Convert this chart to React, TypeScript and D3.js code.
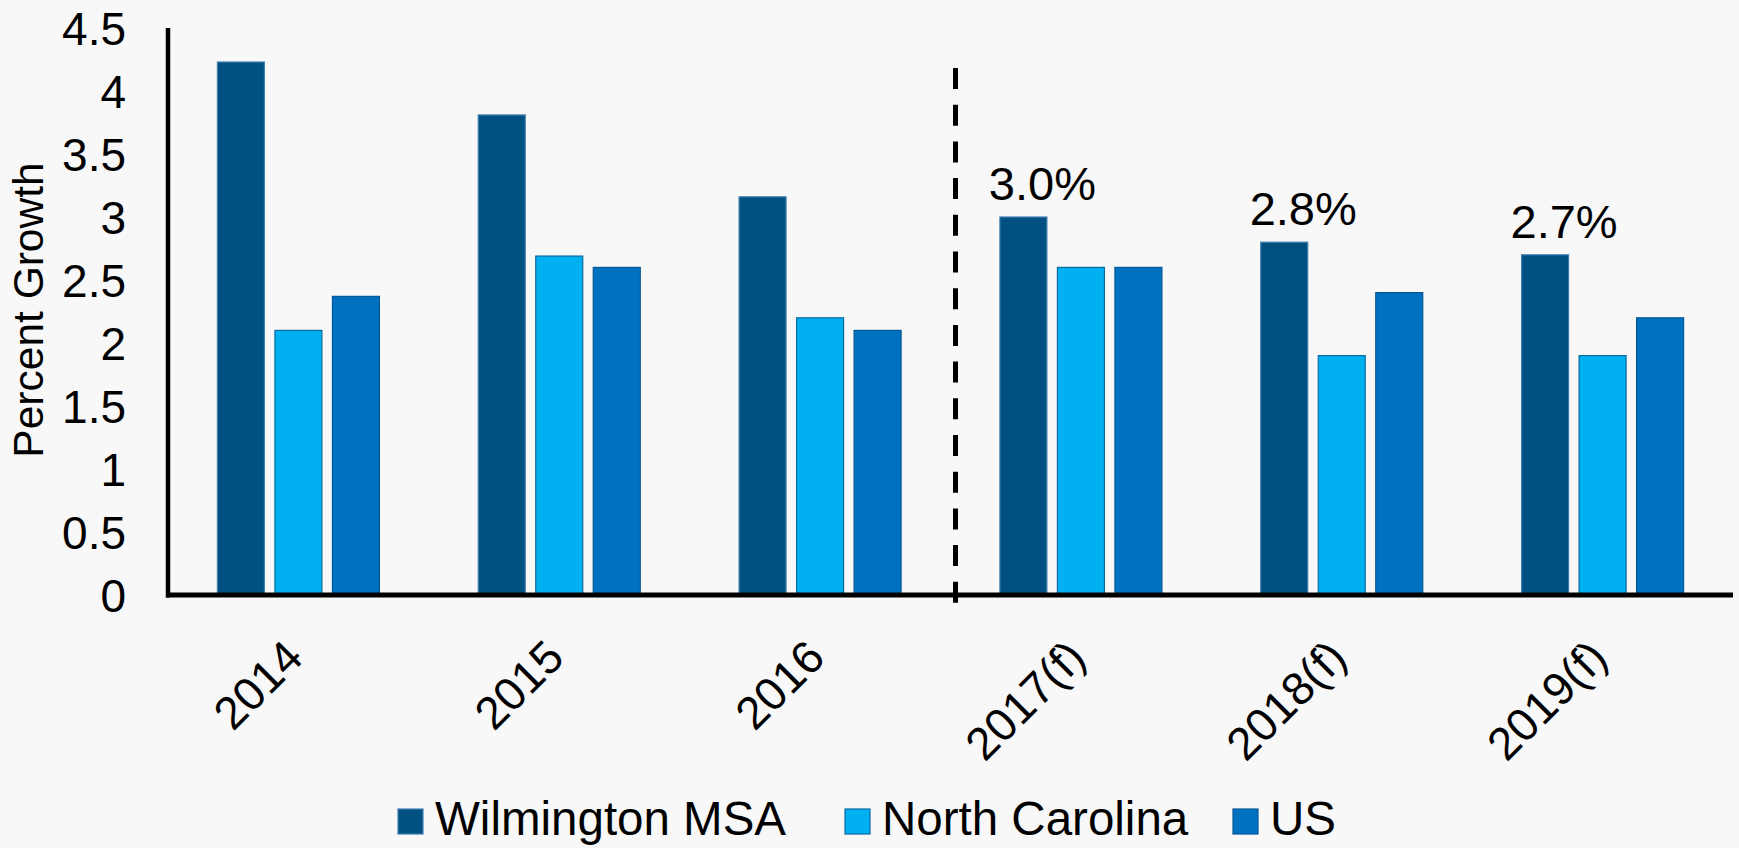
import React from "react";
import * as d3 from "d3";

const categories = ["2014", "2015", "2016", "2017(f)", "2018(f)", "2019(f)"];
const seriesNames = ["Wilmington MSA", "North Carolina", "US"];
const wilmington = [4.23, 3.81, 3.16, 3.0, 2.8, 2.7];
const northCarolina = [2.1, 2.69, 2.2, 2.6, 1.9, 1.9];
const us = [2.37, 2.6, 2.1, 2.6, 2.4, 2.2];
const dataLabels = ["", "", "", "3.0%", "2.8%", "2.7%"];
const yTicks = [0, 0.5, 1, 1.5, 2, 2.5, 3, 3.5, 4, 4.5];
const colors = ["#005082", "#00B0F0", "#0070C0"];
const strokes = ["#3f7fae", "#0b6aa0", "#045896"];

const W = 1739;
const H = 848;
const FONT = "'Liberation Sans', Arial, sans-serif";

export default function App() {
  const x0 = 168;
  const x1 = 1733;
  const yBase = 595;
  const yTop = 28;

  const x = d3.scaleBand<string>().domain(categories).range([x0, x1]).padding(0);
  const groupW = 162;
  const xs = d3
    .scaleBand<string>()
    .domain(seriesNames)
    .range([0, groupW])
    .paddingInner(0.183)
    .paddingOuter(0);
  const y = d3.scaleLinear().domain([0, 4.5]).range([yBase, yTop]);

  const series = [wilmington, northCarolina, us];
  const bw = xs.bandwidth();

  const dashX = (x("2016")! + x.bandwidth() + x("2017(f)")!) / 2 + 5;

  const legendX = [398, 845, 1233];

  return (
    <div style={{ position: "fixed", left: 0, top: 0 }}>
      <svg width={W} height={H} style={{ display: "block", background: "#f8f8f8" }}>
        <rect x={0} y={0} width={W} height={H} fill="#f8f8f8" />
        {categories.map((c, i) => {
          const gx = x(c)! + x.bandwidth() / 2 - groupW / 2;
          return (
            <g key={c}>
              {series.map((s, j) => (
                <rect
                  key={j}
                  x={gx + xs(seriesNames[j])!}
                  y={y(s[i])}
                  width={bw}
                  height={yBase - y(s[i])}
                  fill={colors[j]}
                  stroke={strokes[j]}
                  strokeWidth={1.2}
                />
              ))}
              {dataLabels[i] && (
                <text
                  x={gx + xs(seriesNames[0])! + bw / 2 + 19}
                  y={y(wilmington[i]) - 17}
                  textAnchor="middle"
                  fontFamily={FONT}
                  fontSize={47}
                  fill="#000"
                >
                  {dataLabels[i]}
                </text>
              )}
              <text
                transform={`translate(${x(c)! + x.bandwidth() / 2 + 7},${yBase + 65}) rotate(-45)`}
                textAnchor="end"
                fontFamily={FONT}
                fontSize={46}
                fill="#000"
              >
                {c}
              </text>
            </g>
          );
        })}
        <line
          x1={dashX}
          x2={dashX}
          y1={68}
          y2={610}
          stroke="#000"
          strokeWidth={5}
          strokeDasharray="21 15.7"
        />
        <line x1={x0} x2={x0} y1={yTop} y2={yBase + 2.5} stroke="#000" strokeWidth={4.5} />
        <line x1={x0 - 2} x2={x1} y1={yBase} y2={yBase} stroke="#000" strokeWidth={5} />
        {yTicks.map((t) => (
          <text
            key={t}
            x={126}
            y={y(t)}
            dy="0.36em"
            textAnchor="end"
            fontFamily={FONT}
            fontSize={46}
            fill="#000"
          >
            {String(t)}
          </text>
        ))}
        <text
          transform={`translate(43,310) rotate(-90)`}
          textAnchor="middle"
          fontFamily={FONT}
          fontSize={42.5}
          fill="#000"
        >
          Percent Growth
        </text>
        {seriesNames.map((n, j) => (
          <g key={n}>
            <rect
              x={legendX[j]}
              y={809}
              width={25}
              height={25}
              fill={colors[j]}
              stroke={strokes[j]}
              strokeWidth={1.2}
            />
            <text x={legendX[j] + 37} y={835} fontFamily={FONT} fontSize={47.5} fill="#000">
              {n}
            </text>
          </g>
        ))}
      </svg>
    </div>
  );
}
